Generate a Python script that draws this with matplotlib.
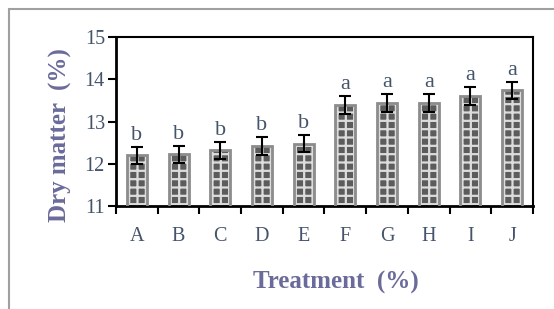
import matplotlib.pyplot as plt
import matplotlib.patches as mpatches

treatments = ['A', 'B', 'C', 'D', 'E', 'F', 'G', 'H', 'I', 'J']
dry_matter = [12.2, 12.22, 12.32, 12.42, 12.48, 13.4, 13.44, 13.44, 13.6, 13.74]
err = [0.2, 0.2, 0.2, 0.21, 0.21, 0.21, 0.22, 0.22, 0.21, 0.2]
letters = ['b', 'b', 'b', 'b', 'b', 'a', 'a', 'a', 'a', 'a']

plt.rcParams['font.family'] = 'Liberation Serif'
plt.rcParams['hatch.linewidth'] = 1.6

tick_col = '#44546a'
lab_col = '#6b6b9b'

fig = plt.figure(figsize=(5.54, 3.09), dpi=100)
ax = fig.add_axes([0.2094, 0.3333, 0.7526, 0.5467])

x = range(len(treatments))
# checkered fill, then grey outline
ax.bar(x, dry_matter, width=0.48, bottom=0, color='#5c5c5c', edgecolor='#dcdcdc',
       hatch='++', linewidth=0, zorder=2)
ax.bar(x, dry_matter, width=0.48, bottom=0, fill=False, edgecolor='#8c8c8c',
       linewidth=2, zorder=3)
ax.errorbar(x, dry_matter, yerr=err, fmt='none', ecolor='black', elinewidth=1.5,
            capsize=4, capthick=1.5, zorder=4)

for i in x:
    ax.text(i, dry_matter[i] + err[i] + 0.05, letters[i], ha='center', va='bottom',
            fontsize=16, color=tick_col)

ax.set_ylim(11, 15)
ax.set_xlim(-0.5, 9.5)
ax.set_yticks([11, 12, 13, 14, 15])
ax.set_xticks([i - 0.5 for i in range(11)])
ax.set_xticklabels([])
ax.set_xticks(list(x), minor=True)
ax.set_xticklabels(treatments, minor=True)
ax.tick_params(axis='x', which='major', direction='out', length=6, width=1.5)
ax.tick_params(axis='x', which='minor', length=0, pad=15, labelsize=14.5, labelcolor=tick_col)
ax.tick_params(axis='y', direction='out', length=6, width=1.5, labelsize=14.5,
               labelcolor=tick_col, pad=2)

for s in ['left', 'bottom']:
    ax.spines[s].set_linewidth(2)
for s in ['top', 'right']:
    ax.spines[s].set_linewidth(1.5)

ax.set_ylabel('Dry matter  (%)', fontsize=18, fontweight='bold', color=lab_col)
ax.set_xlabel('Treatment  (%)', fontsize=18, fontweight='bold', color=lab_col)
ax.yaxis.set_label_coords(-0.106, 0.42)
ax.xaxis.set_label_coords(0.528, -0.385)

fig.patches.append(mpatches.Rectangle((9 / 554, -0.1), 1.2, 1 - 9 / 309 + 0.1,
                                      transform=fig.transFigure, fill=False,
                                      edgecolor='#a0a0a0', linewidth=1.5))

fig.savefig('out.png', dpi=100)
